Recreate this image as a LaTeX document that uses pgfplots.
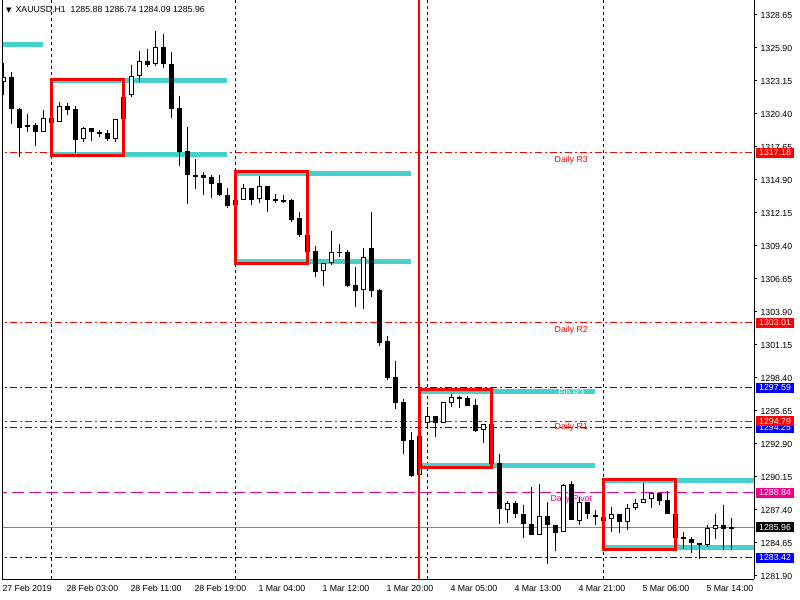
\documentclass[border=0pt]{standalone}
\usepackage{pgfplots}
\pgfplotsset{compat=1.18}
\usepackage{pgfplotstable}
\usepackage{fontspec}
\setmainfont{Liberation Sans}
\newfontfamily\dejavu{DejaVu Sans}
\definecolor{mtcyan}{RGB}{72,209,204}
\definecolor{bidgray}{RGB}{119,136,153}
\definecolor{mtblue}{RGB}{0,0,255}
\newcommand\mt{\fontsize{8.8}{10}\selectfont}

% XAUUSD H1 bars: index, open, high, low, close
\pgfplotstableread{
k o h l c
0 1323.04 1324.63 1321.98 1323.46
1 1323.46 1323.87 1319.60 1320.79
2 1320.79 1320.87 1316.84 1319.26
3 1319.29 1320.40 1318.87 1319.46
4 1319.46 1319.62 1317.76 1318.93
5 1318.93 1320.73 1318.93 1320.04
6 1320.07 1320.15 1319.40 1319.67
7 1319.71 1321.40 1319.71 1321.04
8 1321.04 1321.32 1320.34 1320.71
9 1320.79 1321.07 1317.13 1318.26
10 1318.29 1319.32 1318.09 1319.21
11 1319.21 1319.21 1318.18 1318.87
12 1318.90 1319.07 1318.51 1318.76
13 1318.79 1319.07 1318.18 1318.34
14 1318.34 1319.96 1318.09 1319.96
15 1319.96 1322.68 1319.18 1321.87
16 1321.96 1324.48 1321.79 1323.54
17 1323.59 1325.65 1323.09 1324.79
18 1324.79 1325.82 1324.34 1324.51
19 1324.54 1327.32 1324.40 1325.96
20 1325.96 1327.07 1324.26 1324.54
21 1324.57 1325.54 1320.09 1320.84
22 1320.87 1321.90 1316.09 1317.26
23 1317.32 1319.32 1312.93 1315.34
24 1315.30 1316.65 1314.18 1315.22
25 1315.32 1315.59 1313.67 1315.09
26 1315.15 1315.34 1313.38 1314.59
27 1314.65 1315.34 1313.59 1313.68
28 1313.62 1314.23 1312.59 1312.76
29 1312.79 1313.25 1312.75 1313.21
30 1313.21 1314.57 1313.21 1314.21
31 1314.21 1314.21 1312.84 1313.26
32 1313.29 1315.26 1313.01 1314.38
33 1314.38 1314.38 1312.26 1313.26
34 1313.29 1313.71 1313.01 1313.15
35 1313.21 1313.65 1312.96 1313.07
36 1313.23 1313.29 1311.43 1311.57
37 1311.71 1312.21 1310.18 1310.34
38 1310.37 1310.79 1308.92 1308.92
39 1308.98 1309.43 1306.84 1307.26
40 1307.29 1307.96 1306.09 1307.96
41 1307.96 1310.65 1307.79 1308.87
42 1308.90 1309.57 1308.51 1308.85
43 1308.87 1309.07 1306.01 1306.09
44 1306.12 1307.62 1304.34 1305.62
45 1305.71 1309.21 1304.15 1308.51
46 1309.21 1312.21 1305.18 1305.65
47 1305.73 1305.82 1301.09 1301.34
48 1301.46 1301.90 1298.23 1298.42
49 1298.48 1299.82 1295.82 1296.34
50 1296.40 1296.65 1292.07 1293.18
51 1293.23 1293.87 1290.18 1290.23
52 1290.32 1293.60 1290.25 1293.57
53 1294.68 1296.01 1294.21 1295.23
54 1295.23 1295.23 1293.51 1294.62
55 1294.62 1296.37 1294.62 1296.37
56 1296.29 1297.07 1296.01 1296.79
57 1296.79 1296.90 1295.90 1296.68
58 1296.71 1296.90 1296.07 1296.12
59 1296.15 1296.62 1293.93 1294.01
60 1294.07 1294.54 1292.96 1294.54
61 1294.57 1294.76 1291.26 1291.26
62 1291.29 1292.04 1286.26 1287.46
63 1287.37 1288.18 1286.34 1287.96
64 1287.96 1288.18 1286.71 1287.04
65 1287.04 1287.82 1285.04 1286.21
66 1286.21 1289.29 1285.29 1285.29
67 1285.29 1289.57 1285.29 1286.90
68 1286.90 1288.09 1282.90 1286.12
69 1286.15 1286.15 1284.01 1285.51
70 1285.59 1289.57 1285.59 1289.46
71 1289.54 1289.82 1286.57 1286.57
72 1286.51 1288.51 1286.15 1288.09
73 1288.09 1288.09 1286.65 1287.07
74 1286.96 1287.40 1286.15 1286.82
75 1286.79 1286.90 1286.40 1286.51
76 1286.62 1287.62 1285.54 1287.04
77 1287.04 1287.04 1285.51 1286.43
78 1286.43 1287.87 1285.73 1287.54
79 1287.54 1288.37 1287.40 1288.01
80 1287.96 1289.62 1287.96 1288.29
81 1288.29 1288.93 1287.54 1288.79
82 1288.79 1288.93 1287.82 1288.18
83 1288.23 1289.01 1287.04 1287.04
84 1287.04 1287.04 1284.21 1285.09
85 1285.12 1285.59 1284.15 1285.00
86 1284.98 1285.12 1283.79 1284.62
87 1284.62 1284.68 1283.37 1284.51
88 1284.48 1286.15 1284.34 1285.90
89 1285.84 1287.07 1284.96 1286.18
90 1286.18 1287.82 1284.07 1285.84
91 1285.88 1286.74 1284.09 1285.96
}\bars

\begin{document}
\begin{tikzpicture}[font=\mt]
\useasboundingbox (0,0) rectangle (800bp,600bp);
\begin{axis}[
  at={(2bp,21bp)}, anchor=south west,
  width=752bp, height=579bp, scale only axis,
  xmin=-0.1625, xmax=93.8375, ymin=1281.65, ymax=1329.9,
  axis x line*=bottom, axis y line*=right,
  axis line style={black, line width=1bp, -},
  ytick pos=right, yticklabel pos=right,
  tick align=outside, major tick length=3bp,
  ytick style={black, line width=1bp},
  xtick style={draw=none},
  ytick={1281.90,1284.65,1287.40,1290.15,1292.90,1295.65,1298.40,1301.15,1303.90,
         1306.65,1309.40,1312.15,1314.90,1317.65,1320.40,1323.15,1325.90,1328.65},
  yticklabel style={anchor=west, font=\mt,
    /pgf/number format/.cd, fixed, fixed zerofill, precision=2, 1000 sep={}, assume math mode=true},
  xtick={0,8,...,88},
  xticklabels={27 Feb 2019, 28 Feb 03:00, 28 Feb 11:00, 28 Feb 19:00, 1 Mar 04:00,
    1 Mar 12:00, 1 Mar 20:00, 4 Mar 05:00, 4 Mar 13:00, 4 Mar 21:00, 5 Mar 06:00, 5 Mar 14:00},
  xticklabel style={anchor=north west, inner xsep=0pt, xshift=-1bp, font=\mt},
  clip=true,
]
% day separators
\addplot[black, line width=1bp, dash pattern=on 3bp off 3bp] coordinates {(6,1281.65) (6,1329.9)};
\addplot[black, line width=1bp, dash pattern=on 3bp off 3bp] coordinates {(29,1281.65) (29,1329.9)};
\addplot[black, line width=1bp, dash pattern=on 3bp off 3bp] coordinates {(53,1281.65) (53,1329.9)};
\addplot[black, line width=1bp, dash pattern=on 3bp off 3bp] coordinates {(75,1281.65) (75,1329.9)};
% pivot levels
\addplot[red, line width=1bp, dash pattern=on 7bp off 3bp on 2bp off 3bp] coordinates {(-1,1317.18) (95,1317.18)};
\addplot[red, line width=1bp, dash pattern=on 7bp off 3bp on 2bp off 3bp] coordinates {(-1,1303.01) (95,1303.01)};
\addplot[mtblue, line width=1.2bp, dash pattern=on 7bp off 3bp on 2bp off 3bp] coordinates {(-1,1297.59) (95,1297.59)};
\addplot[red, line width=1bp, dash pattern=on 7bp off 3bp on 2bp off 3bp] coordinates {(-1,1294.79) (95,1294.79)};
\addplot[mtblue, line width=1.2bp, dash pattern=on 7bp off 3bp on 2bp off 3bp] coordinates {(-1,1294.25) (95,1294.25)};
\addplot[magenta, line width=1bp, dash pattern=on 12bp off 5bp] coordinates {(-1,1288.84) (95,1288.84)};
\addplot[bidgray, line width=1bp] coordinates {(-1,1285.96) (95,1285.96)};
\addplot[mtblue, line width=1.2bp, dash pattern=on 7bp off 3bp on 2bp off 3bp] coordinates {(-1,1283.42) (95,1283.42)};
% session range lines
\addplot[mtcyan, line width=5bp] coordinates {(-17,1326.23) (5,1326.23)};
\addplot[mtcyan, line width=5bp] coordinates {(6,1323.15) (28,1323.15)};
\addplot[mtcyan, line width=5bp] coordinates {(6,1317.04) (28,1317.04)};
\addplot[mtcyan, line width=5bp] coordinates {(29,1315.44) (51,1315.44)};
\addplot[mtcyan, line width=5bp] coordinates {(29,1308.12) (51,1308.12)};
\addplot[mtcyan, line width=5bp] coordinates {(52,1297.26) (74,1297.26)};
\addplot[mtcyan, line width=5bp] coordinates {(52,1291.09) (74,1291.09)};
\addplot[mtcyan, line width=5bp] coordinates {(75,1289.82) (97,1289.82)};
\addplot[mtcyan, line width=5bp] coordinates {(75,1284.29) (97,1284.29)};
% level labels
\node[red, anchor=north, inner sep=0pt, yshift=-3bp] at (axis cs:71,1317.18) {Daily R3};
\node[red, anchor=north, inner sep=0pt, yshift=-3bp] at (axis cs:71,1303.01) {Daily R2};
\node[white, anchor=north, inner sep=0pt, yshift=-1.5bp] at (axis cs:71,1297.59) {Fib R3};
\node[red, anchor=north, inner sep=0pt, yshift=-2bp] at (axis cs:71,1294.79) {Daily R1};
\node[magenta, anchor=north, inner sep=0pt, yshift=-2bp] at (axis cs:71,1288.84) {Daily Pivot};
% wicks
\addplot[draw=none, mark=none, error bars/.cd, y dir=both, y explicit, error mark=none,
  error bar style={draw=black, line width=1bp}]
  table[x=k, y expr={(\thisrow{h}+\thisrow{l})/2}, y error expr={(\thisrow{h}-\thisrow{l})/2}] {\bars};
% bodies
\addplot[draw=none, mark=none, error bars/.cd, y dir=both, y explicit, error mark=none,
  error bar style={draw=black, line width=5bp}]
  table[x=k, y expr={(\thisrow{o}+\thisrow{c})/2}, y error expr={max(abs(\thisrow{c}-\thisrow{o})/2,0.042)}] {\bars};
\addplot[draw=none, mark=none, error bars/.cd, y dir=both, y explicit, error mark=none,
  error bar style={draw=white, line width=3bp}]
  table[x=k, y expr={\thisrow{c}-\thisrow{o}>0.25 ? (\thisrow{o}+\thisrow{c})/2 : nan},
        y error expr={abs(\thisrow{c}-\thisrow{o})/2-0.0833}] {\bars};
% session boxes
\addplot[red, line width=3bp, line join=miter] coordinates {(6,1316.95) (15,1316.95) (15,1323.3) (6,1323.3)} -- cycle;
\addplot[red, line width=3bp, line join=miter] coordinates {(29,1307.93) (38,1307.93) (38,1315.62) (29,1315.62)} -- cycle;
\addplot[red, line width=3bp, line join=miter] coordinates {(52,1290.9) (61,1290.9) (61,1297.46) (52,1297.46)} -- cycle;
\addplot[red, line width=3bp, line join=miter] coordinates {(75,1284.12) (84,1284.12) (84,1289.96) (75,1289.96)} -- cycle;
% vertical marker
\addplot[red, line width=2bp] coordinates {(51.95,1281.65) (51.95,1329.9)};
\draw[black, line width=1bp] (rel axis cs:0,0) -- (rel axis cs:0,1);
% price tag anchors
\coordinate (p1) at (axis cs:93.8375,1317.18);
\coordinate (p2) at (axis cs:93.8375,1303.01);
\coordinate (p3) at (axis cs:93.8375,1297.59);
\coordinate (p4) at (axis cs:93.8375,1294.79);
\coordinate (p5) at (axis cs:93.8375,1294.25);
\coordinate (p6) at (axis cs:93.8375,1288.84);
\coordinate (p7) at (axis cs:93.8375,1285.96);
\coordinate (p8) at (axis cs:93.8375,1283.42);
\end{axis}
\tikzset{tag/.style={anchor=west, xshift=2bp, text=white, inner xsep=3bp, inner ysep=0pt, minimum height=10bp, font=\mt}}
\node[tag, fill=red] at (p1) {1317.18};
\node[tag, fill=red] at (p2) {1303.01};
\node[tag, fill=mtblue] at (p3) {1297.59};
\node[tag, fill=mtblue] at (p5) {1294.25};
\node[tag, fill=red] at (p4) {1294.79};
\node[tag, fill=magenta] at (p6) {1288.84};
\node[tag, fill=black] at (p7) {1285.96};
\node[tag, fill=mtblue] at (p8) {1283.42};
\node[anchor=west, inner sep=0pt] at (6bp,590bp) {{\dejavu\fontsize{7}{7}\selectfont ▼}\hspace{4bp}XAUUSD,H1\hspace{5bp}1285.88 1286.74 1284.09 1285.96};
\end{tikzpicture}
\end{document}
